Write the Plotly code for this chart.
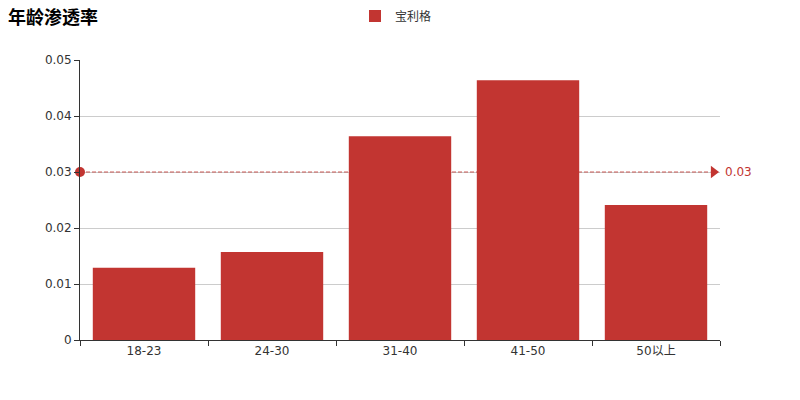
import plotly.graph_objects as go

categories = ["18-23", "24-30", "31-40", "41-50", "50以上"]
values = [0.0129, 0.0157, 0.0364, 0.0464, 0.0241]
series_name = "宝利格"
mark_value = 0.03
mark_label = "0.03"
title_text = "年龄渗透率"
y_ticks = [0, 0.01, 0.02, 0.03, 0.04, 0.05]
y_tick_labels = ["0", "0.01", "0.02", "0.03", "0.04", "0.05"]

RED = "#c23531"
FONT = "DejaVu Sans, Noto Sans CJK SC, sans-serif"

fig = go.Figure()

# dashed mark line on the base (hidden linear) x axis, under the bars
fig.add_trace(go.Scatter(
    x=[0, 0.985], y=[mark_value, mark_value], xaxis="x", yaxis="y",
    mode="lines", line=dict(color="rgba(194,53,49,0.8)", width=1, dash="4px,2px"),
    showlegend=False, hoverinfo="skip",
))
fig.add_trace(go.Scatter(
    x=[0], y=[mark_value], xaxis="x", yaxis="y",
    mode="markers", marker=dict(color=RED, size=10, symbol="circle"),
    showlegend=False, hoverinfo="skip", cliponaxis=False,
))
fig.add_trace(go.Scatter(
    x=[0.99], y=[mark_value], xaxis="x", yaxis="y",
    mode="markers", marker=dict(color=RED, size=11, symbol="triangle-right"),
    showlegend=False, hoverinfo="skip", cliponaxis=False,
))

# bars on the overlaying category axis
fig.add_trace(go.Bar(
    x=categories, y=values, name=series_name, xaxis="x2", yaxis="y",
    marker=dict(color=RED, line=dict(width=0)),
    hoverinfo="x+y",
))

fig.add_annotation(
    x=1, y=mark_value, xref="paper", yref="y", text=mark_label,
    showarrow=False, xanchor="left", xshift=3,
    font=dict(color=RED, size=12, family=FONT),
)

# figure sits 8px inside the page, margins compensate
fig.update_layout(
    width=800, height=400,
    margin=dict(l=72, r=88, t=52, b=68, autoexpand=False),
    paper_bgcolor="white", plot_bgcolor="white",
    font=dict(family=FONT, size=12, color="#333"),
    title=dict(text="<b>" + title_text + "</b>", x=0.0, xanchor="left",
               y=0.977, yanchor="middle", pad=dict(l=0, r=0, t=0, b=0),
               font=dict(size=18, color="#000", family=FONT)),
    bargap=0.2,
    showlegend=True,
    legend=dict(orientation="h", x=0.485, xanchor="center", y=0.98, yanchor="middle",
                xref="container", yref="container",
                font=dict(size=12, color="#333", family=FONT),
                itemwidth=30),
    xaxis=dict(range=[0, 1], visible=False, fixedrange=True, showgrid=False, zeroline=False),
    xaxis2=dict(
        type="category", overlaying="x", side="bottom",
        showgrid=False, showline=True, linecolor="#333", linewidth=1,
        ticks="outside", tickson="boundaries", ticklen=5, tickcolor="#333",
        tickfont=dict(size=12, color="#333"),
    ),
    yaxis=dict(
        range=[0, 0.05], tickvals=y_ticks, ticktext=y_tick_labels,
        showgrid=True, gridcolor="#ccc", gridwidth=1,
        showline=True, linecolor="#333", linewidth=1,
        ticks="outside", ticklen=5, tickcolor="#333",
        zeroline=False, tickfont=dict(size=12, color="#333"),
    ),
)

fig.write_html("out.html")
